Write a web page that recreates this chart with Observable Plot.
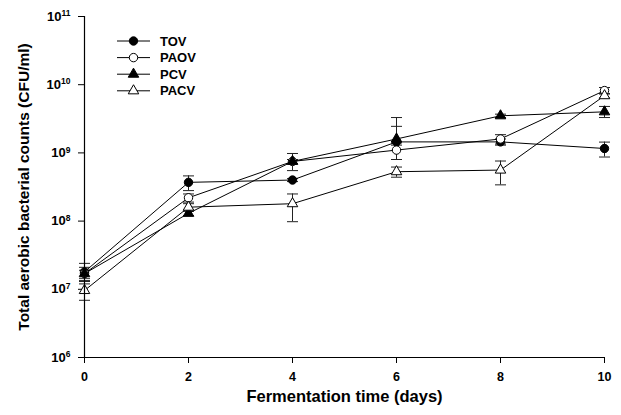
<!DOCTYPE html>
<html><head><meta charset="utf-8">
<script src="https://cdn.jsdelivr.net/npm/d3@7"></script>
<script src="https://cdn.jsdelivr.net/npm/@observablehq/plot@0.6"></script>
<style>body{margin:0;background:#fff}</style>
</head><body><div id="chart"></div>
<script>
// ---- data (CFU/ml) ----
const days = [0, 2, 4, 6, 8, 10];
const seriesNames = ["TOV", "PAOV", "PCV", "PACV"];
const TOV      = [1.8e7, 3.7e8, 4.0e8, 1.45e9, 1.45e9, 1.16e9];
const TOV_hi   = [2.4e7, 4.6e8, 4.2e8, 2.45e9, 1.6e9, 1.44e9];
const TOV_lo   = [1.35e7, 2.8e8, 3.8e8, 1.3e9, 1.3e9, 0.87e9];
const PAOV     = [1.7e7, 2.2e8, 7.5e8, 1.1e9, 1.6e9, 8.2e9];
const PAOV_hi  = [1.9e7, 2.5e8, 8.0e8, 1.45e9, 1.85e9, 9.1e9];
const PAOV_lo  = [1.45e7, 1.9e8, 7.0e8, 0.8e9, 1.35e9, 7.3e9];
const PCV      = [1.7e7, 1.3e8, 7.5e8, 1.6e9, 3.5e9, 4.0e9];
const PCV_hi   = [2.1e7, 1.4e8, 9.8e8, 3.3e9, 3.7e9, 4.8e9];
const PCV_lo   = [1.2e7, 1.2e8, 5.5e8, 1.4e9, 3.3e9, 3.3e9];
const PACV     = [0.96e7, 1.6e8, 1.8e8, 5.3e8, 5.6e8, 6.9e9];
const PACV_hi  = [1.3e7, 1.8e8, 2.5e8, 6.2e8, 7.6e8, 7.4e9];
const PACV_lo  = [0.69e7, 1.4e8, 0.98e8, 4.4e8, 3.4e8, 6.4e9];
const xTicks = [0, 2, 4, 6, 8, 10];
const yTicks = [1e6, 1e7, 1e8, 1e9, 1e10, 1e11];

// ---- styles ----
const values = {TOV, PAOV, PCV, PACV};
const his = {TOV: TOV_hi, PAOV: PAOV_hi, PCV: PCV_hi, PACV: PACV_hi};
const los = {TOV: TOV_lo, PAOV: PAOV_lo, PCV: PCV_lo, PACV: PACV_lo};
const symbolOf = {TOV: "circle", PAOV: "circle", PCV: "triangle", PACV: "triangle"};
const fillOf = {TOV: "black", PAOV: "white", PCV: "black", PACV: "white"};
const rOf = {circle: 4.2, triangle: 3.9};

const rows = seriesNames.flatMap(s => days.map((d, i) => ({
  series: s, day: d, value: values[s][i], hi: his[s][i], lo: los[s][i]
})));

const cap = {draw(ctx) { ctx.moveTo(-5.5, 0); ctx.lineTo(5.5, 0); }};

const marks = [
  Plot.ruleX(rows, {x: "day", y1: "lo", y2: "hi", stroke: "#222", strokeWidth: 1}),
  Plot.dot(rows, {x: "day", y: "hi", symbol: cap, r: 5, stroke: "#222", strokeWidth: 1}),
  Plot.dot(rows, {x: "day", y: "lo", symbol: cap, r: 5, stroke: "#222", strokeWidth: 1}),
  Plot.line(rows, {x: "day", y: "value", z: "series", stroke: "black", strokeWidth: 1}),
  ...seriesNames.map(s => Plot.dot(rows.filter(d => d.series === s), {
    x: "day", y: "value", symbol: symbolOf[s], r: rOf[symbolOf[s]], fill: fillOf[s], stroke: "black", strokeWidth: 1
  })),
  Plot.ruleY([1e6], {stroke: "black", strokeWidth: 1.2}),
  Plot.ruleX([0], {stroke: "black", strokeWidth: 1.2})
];

const chart = Plot.plot({
  width: 621, height: 415,
  marginLeft: 84, marginRight: 17, marginTop: 16, marginBottom: 58,
  style: {fontFamily: "'Liberation Sans', Arial, sans-serif", fontSize: "12.5px", fontWeight: "bold", color: "black", background: "white"},
  x: {domain: [0, 10], ticks: xTicks, tickSize: 6, tickPadding: 9, label: "Fermentation time (days)", labelAnchor: "center", labelOffset: 44, labelArrow: "none"},
  y: {type: "log", domain: [1e6, 1e11], ticks: yTicks, tickFormat: d => String(Math.round(Math.log10(d))), tickSize: 6, tickPadding: 8,
      label: "Total aerobic bacterial counts (CFU/ml)", labelAnchor: "center", labelOffset: 67, labelArrow: "none"},
  marks
});
document.getElementById("chart").appendChild(chart);

const svg = d3.select(chart.tagName === "svg" ? chart : chart.querySelector("svg"));
// superscript exponents on the y tick labels
svg.selectAll('g[aria-label="y-axis tick label"] text').each(function() {
  const t = d3.select(this);
  const exp = t.text();
  t.text("");
  t.append("tspan").attr("font-size", "13px").text("10");
  t.append("tspan").attr("dy", "-0.5em").attr("font-size", "8.5px").text(exp);
});
svg.selectAll('g[aria-label="y-axis label"] text').attr("font-size", "15.5px");
svg.selectAll('g[aria-label="x-axis label"] text').attr("font-size", "16.5px");

// legend
const lg = svg.append("g").attr("font-size", "13px").attr("font-weight", "bold").attr("text-anchor", "start");
seriesNames.forEach((s, i) => {
  const y = 41 + i * 16.6;
  lg.append("line").attr("x1", 117).attr("x2", 150).attr("y1", y).attr("y2", y).attr("stroke", "black");
  const sym = symbolOf[s] === "circle" ? d3.symbolCircle : d3.symbolTriangle;
  const rr = rOf[symbolOf[s]];
  lg.append("path").attr("d", d3.symbol(sym, Math.PI * rr * rr)()).attr("transform", `translate(133.5,${y})`)
    .attr("fill", fillOf[s]).attr("stroke", "black");
  lg.append("text").attr("x", 160).attr("y", y).attr("dy", "0.36em").attr("text-anchor", "start").text(s);
});
</script>
</body></html>
